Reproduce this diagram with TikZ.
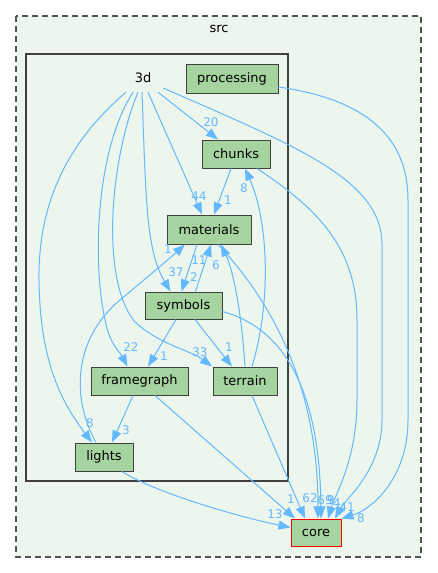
\documentclass[tikz,border=0pt]{standalone}
\usepackage{fontspec}
\setmainfont{DejaVu Sans}
\usetikzlibrary{arrows.meta,calc}

\definecolor{depblue}{HTML}{63B8FF}
\definecolor{dirgreen}{HTML}{A6D4A0}
\definecolor{clusterbg}{HTML}{EDF6EC}
\definecolor{darkline}{HTML}{404040}

\tikzset{
  dirbox/.style={draw=darkline, fill=dirgreen, line width=1bp, inner sep=0pt,
    minimum height=28bp, font=\fontsize{13}{15}\selectfont},
  dep/.style={draw=depblue, line width=1bp, ->, >={Triangle[length=12bp,width=9bp]}},
  deplbl/.style={text=depblue, inner sep=0pt, font=\fontsize{12}{14}\selectfont},
}

\begin{document}
\begin{tikzpicture}[yscale=-1]

    \begin{scope}[xscale=.0352778,yscale=.0352778]
      \useasboundingbox (0,0) rectangle (437,573);

      % clusters
      \draw[fill=clusterbg, draw=darkline!90, line width=1.3bp, dash pattern=on 6bp off 4bp] (16,16) rectangle (421,557);
      \node[font=\fontsize{13}{15}\selectfont] (srclbl) at (219,29) {src};
      \draw[fill=clusterbg, draw=darkline, line width=2bp] (26,54) rectangle (288,481);
      \node[minimum width=40bp, minimum height=28bp, inner sep=0pt, font=\fontsize{13}{15}\selectfont] (d3) at (143,78) {3d};

      % directories
      \node[dirbox, minimum width=92bp, minimum height=29bp] (processing) at (232,78.5) {processing};
      \node[dirbox, minimum width=68bp] (chunks) at (236,154) {chunks};
      \node[dirbox, minimum width=84bp, minimum height=29bp] (materials) at (209,229.5) {materials};
      \node[dirbox, minimum width=77bp, minimum height=27bp] (symbols) at (183.5,305.5) {symbols};
      \node[dirbox, minimum width=97bp] (framegraph) at (139.5,381) {framegraph};
      \node[dirbox, minimum width=64bp] (terrain) at (245,381) {terrain};
      \node[dirbox, minimum width=58bp] (lights) at (104,457) {lights};
      \node[dirbox, draw=red, minimum width=50bp, minimum height=27bp] (core) at (316,532.5) {core};

      % dependencies inside 3d
      \draw[dep] ($(d3.south)+(15,0)$) -- ($(chunks.north)+(-18,0)$) node[deplbl] (l-d3-chunks) at (211,122) {20};
      \draw[dep] ($(d3.south)+(5,0)$) -- ($(materials.north)+(-7,0)$) node[deplbl] (l-d3-materials) at (199,196) {44};
      \draw[dep] ($(chunks.south)+(-5,0)$) -- ($(materials.north)+(5,0)$) node[deplbl] (l-chunks-materials) at (228,200) {1};
      \draw[dep] ($(d3.south)+(-1,0)$) .. controls (146,200) and (146,250) .. ($(symbols.north)+(-13,0)$) node[deplbl] (l-d3-symbols) at (176,272) {37};
      \draw[dep] ($(materials.south)+(-12,0)$) -- ($(symbols.north)+(-2,0)$) node[deplbl] (l-materials-symbols) at (194,277) {2};
      \draw[dep] ($(symbols.north)+(12,0)$) -- ($(materials.south)+(2,0)$) node[deplbl] (l-symbols-materials) at (199,260) {11};
      \draw[dep] (terrain.north) .. controls (242,320) and (235,275) .. ($(materials.south)+(12,0)$) node[deplbl] (l-terrain-materials) at (216,265) {6};
      \draw[dep] ($(lights.north)+(-8,0)$) .. controls (72,400) and (72,340) .. (120,300) .. controls (150,275) and (170,258) .. ($(materials.south)+(-24,0)$) node[deplbl] (l-lights-materials) at (168,249) {1};
      \draw[dep] ($(d3.south)+(-10,0)$) .. controls (96,150) and (92,260) .. (105,320) .. controls (110,345) and (120,352) .. ($(framegraph.north)+(-12,0)$) node[deplbl] (l-d3-framegraph) at (131,347) {22};
      \draw[dep] ($(symbols.south)+(-7.5,0)$) -- ($(framegraph.north)+(8.5,0)$) node[deplbl] (l-symbols-framegraph) at (164,356) {1};
      \draw[dep] ($(d3.south)+(-5,0)$) .. controls (110,160) and (100,280) .. (135,322) .. controls (160,345) and (190,350) .. ($(terrain.north)+(-33,0)$) node[deplbl] (l-d3-terrain) at (200,352) {33};
      \draw[dep] ($(symbols.south)+(11.5,0)$) -- ($(terrain.north)+(-13,0)$) node[deplbl] (l-symbols-terrain) at (229,347) {1};
      \draw[dep] ($(terrain.north)+(7,0)$) .. controls (272,300) and (268,220) .. ($(chunks.south)+(9,0)$) node[deplbl] (l-terrain-chunks) at (244,188) {8};
      \draw[dep] ($(d3.south)+(-17,0)$) .. controls (70,140) and (38,200) .. (39,280) .. controls (40,360) and (60,400) .. ($(lights.north)+(-12,0)$) node[deplbl] (l-d3-lights) at (90,423) {8};
      \draw[dep] ($(framegraph.south)+(-6.5,0)$) -- ($(lights.north)+(8,0)$) node[deplbl] (l-framegraph-lights) at (126,430) {3};

      % dependencies on core
      \draw[dep] ($(lights.south)+(18,0)$) .. controls (150,490) and (230,515) .. ($(core.west)+(0,-5)$) node[deplbl] (l-lights-core) at (275,514) {13};
      \draw[dep] ($(framegraph.south)+(15.5,0)$) -- ($(core.north)+(-21,0)$) node[deplbl] (l-framegraph-core) at (291,499) {1};
      \draw[dep] ($(terrain.south)+(7,0)$) -- ($(core.north)+(-11,0)$) node[deplbl] (l-terrain-core) at (310,498) {62};
      \draw[dep] ($(materials.south)+(9,0)$) .. controls (275,305) and (318,390) .. ($(core.north)+(2,0)$) node[deplbl] (l-materials-core) at (325,500) {69};
      \draw[dep] ($(symbols.east)+(0,6)$) .. controls (290,330) and (320,400) .. ($(core.north)+(5,0)$) node[deplbl] (l-symbols-core) at (331,500) {9};
      \draw[dep] ($(chunks.south)+(21,0)$) .. controls (320,210) and (357,250) .. (357,320) -- (357,400) .. controls (357,460) and (335,495) .. ($(core.north)+(12,0)$) node[deplbl] (l-chunks-core) at (337,503) {4};
      \draw[dep] ($(d3.east)+(0,10)$) .. controls (300,148) and (382,180) .. (382,245) -- (382,420) .. controls (382,470) and (345,500) .. ($(core.north)+(19,0)$) node[deplbl] (l-d3-core) at (347,507) {41};
      \draw[dep] ($(processing.east)+(0,8.5)$) .. controls (370,100) and (408,140) .. (408,200) -- (408,420) .. controls (408,480) and (370,510) .. (core.north east) node[deplbl] (l-processing-core) at (361,518) {8};
    \end{scope}
    \end{tikzpicture}
\end{document}
